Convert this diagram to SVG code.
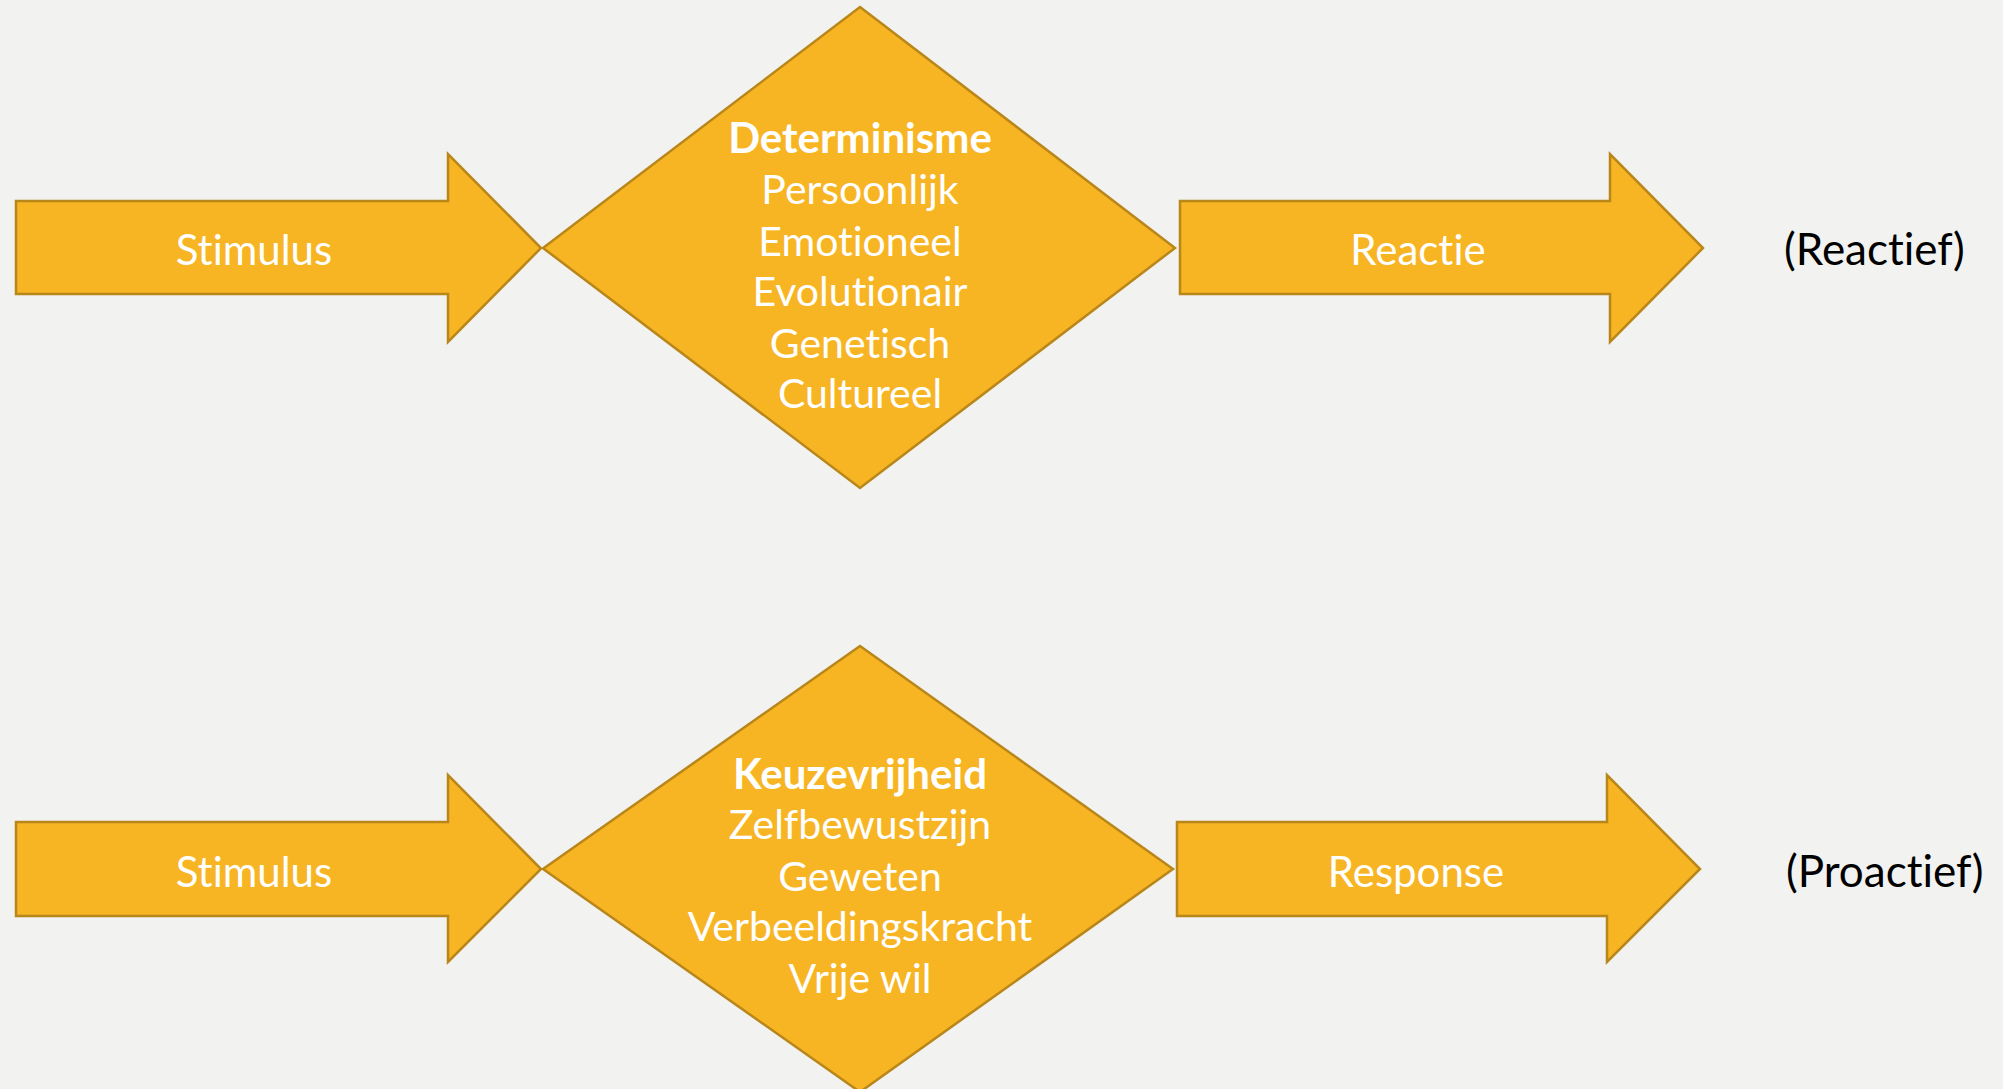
<svg xmlns="http://www.w3.org/2000/svg" width="2003" height="1089" viewBox="0 0 2003 1089">
<style>
text{font-variant-ligatures:none;font-feature-settings:"liga" 0,"dlig" 0}
.shape{fill:#F7B524;stroke:#B9861A;stroke-width:2.5;stroke-linejoin:miter}
.w{fill:#FFFFFF;font-family:Lato,"Open Sans",sans-serif;font-size:42px;text-anchor:middle}
.d{font-size:41px}
.b{font-weight:bold;font-size:42px}
.k{fill:#000000;font-family:Lato,"Open Sans",sans-serif;font-size:44px}
</style>
<rect width="2003" height="1089" fill="#F2F2F0"/>
<g id="connectors"/>
<g id="stimulus1">
<polygon class="shape" points="16,201 448,201 448,154 541,248 448,342 448,294 16,294"/>
<text class="w" x="254" y="265">Stimulus</text>
</g>
<g id="determinisme">
<polygon class="shape" points="860,7 1175,248 860,488 543,248"/>
<text class="w b" x="860" y="153">Determinisme</text>
<text class="w d" x="860" y="204">Persoonlijk</text>
<text class="w d" x="860" y="256">Emotioneel</text>
<text class="w d" x="860" y="306">Evolutionair</text>
<text class="w d" x="860" y="358">Genetisch</text>
<text class="w d" x="860" y="408">Cultureel</text>
</g>
<g id="reactie">
<polygon class="shape" points="1180,201 1610,201 1610,154 1703,248 1610,342 1610,294 1180,294"/>
<text class="w" x="1418" y="265">Reactie</text>
</g>
<text id="reactief" class="k" x="1784" y="265">(Reactief)</text>
<g id="stimulus2">
<polygon class="shape" points="16,822 448,822 448,775 541,869 448,962 448,916 16,916"/>
<text class="w" x="254" y="887">Stimulus</text>
</g>
<g id="keuzevrijheid">
<polygon class="shape" points="860,646 1173,869 860,1092 543,869"/>
<text class="w b" x="860" y="789">Keuzevrijheid</text>
<text class="w d" x="860" y="839">Zelfbewustzijn</text>
<text class="w d" x="860" y="891">Geweten</text>
<text class="w d" x="860" y="941">Verbeeldingskracht</text>
<text class="w d" x="860" y="993">Vrije wil</text>
</g>
<g id="response">
<polygon class="shape" points="1177,822 1607,822 1607,775 1700,869 1607,962 1607,916 1177,916"/>
<text class="w" x="1416" y="887">Response</text>
</g>
<text id="proactief" class="k" x="1786" y="887">(Proactief)</text>
</svg>
